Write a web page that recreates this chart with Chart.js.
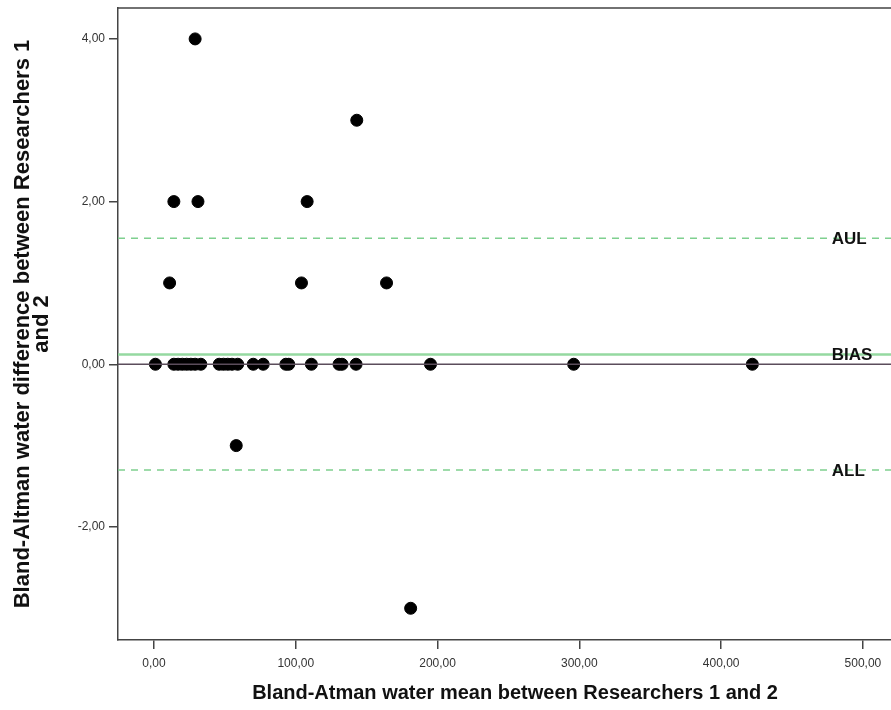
<!DOCTYPE html>
<html>
<head>
<meta charset="utf-8">
<title>Bland-Altman water</title>
<script src="https://cdn.jsdelivr.net/npm/chart.js@4"></script>
<style>
  html, body { margin: 0; padding: 0; background: #fff; overflow: hidden; }
  /* the original plot is cropped on the right, so the canvas is wider than the window */
  #wrap { position: relative; width: 919px; height: 710px; }
</style>
</head>
<body>
<div id="wrap"><canvas id="plot"></canvas></div>
<script>
// mean between researchers (x) and their difference (y)
const meanVals = [1, 14, 17, 20, 23, 26, 29, 33, 46, 49, 52, 55, 59, 70, 77, 93, 95, 111, 130.5, 132.6, 142.5, 195, 296, 422,
                  29, 143, 14, 31, 108, 11, 104, 164, 58, 181];
const diffVals = [0, 0, 0, 0, 0, 0, 0, 0, 0, 0, 0, 0, 0, 0, 0, 0, 0, 0, 0, 0, 0, 0, 0, 0,
                  4, 3, 2, 2, 2, 1, 1, 1, -1, -3];

// reference lines
const refNames  = ['AUL', 'BIAS', 'ALL'];
const refValues = [1.55, 0.12, -1.30];
const zeroValue = 0;

const xTicks = [0, 100, 200, 300, 400, 500];
const yTicks = [-2, 0, 2, 4];
const X_MIN = -25.4, X_MAX = 534.6;
const Y_MIN = -3.39, Y_MAX = 4.38;
const LABEL_X = 478;   // where the AUL/BIAS/ALL text starts, in x units

const FONT = '"Liberation Sans", Arial, sans-serif';
const AXIS = '#444';

const fmt = v => v.toFixed(2).replace('.', ',');

// ── reference line datasets ─────────────────────────────────────────────────
const hLine = (v, style) => Object.assign({
  type: 'line',
  data: [{ x: X_MIN, y: v }, { x: X_MAX, y: v }],
  pointRadius: 0,
  fill: false,
}, style);

const lineSets = [
  hLine(zeroValue,    { borderColor: '#5b4d5b', borderWidth: 1.5 }),
  hLine(refValues[0], { borderColor: '#7fd08f', borderWidth: 1.5, borderDash: [7, 6] }),
  hLine(refValues[1], { borderColor: '#95d9a0', borderWidth: 2.5 }),
  hLine(refValues[2], { borderColor: '#7fd08f', borderWidth: 1.5, borderDash: [7, 6] }),
];

// top frame line + line labels
const framePlugin = {
  id: 'frame',
  afterDatasetsDraw(chart) {
    const { ctx, chartArea: a, scales: { x, y } } = chart;
    ctx.save();
    ctx.strokeStyle = AXIS;
    ctx.lineWidth = 1.5;
    ctx.beginPath();
    ctx.moveTo(a.left, a.top);
    ctx.lineTo(a.right, a.top);
    ctx.lineTo(a.right, a.bottom);
    ctx.stroke();

    ctx.fillStyle = '#111';
    ctx.font = 'bold 17px ' + FONT;
    ctx.textAlign = 'left';
    ctx.textBaseline = 'middle';
    refNames.forEach((n, i) => {
      ctx.fillText(n, x.getPixelForValue(LABEL_X), y.getPixelForValue(refValues[i]) + 1);
    });
    ctx.restore();
  }
};

new Chart(document.getElementById('plot'), {
  type: 'scatter',
  data: {
    datasets: [
      ...lineSets,
      {
        type: 'scatter',
        data: meanVals.map((m, i) => ({ x: m, y: diffVals[i] })),
        backgroundColor: '#000',
        borderColor: '#000',
        pointRadius: 6,
        pointHoverRadius: 6,
      },
    ],
  },
  options: {
    responsive: true,
    maintainAspectRatio: false,
    animation: false,
    devicePixelRatio: 1,
    layout: { padding: { top: 8, right: 0, bottom: 0, left: 0 } },
    plugins: { legend: { display: false }, tooltip: { enabled: false } },
    scales: {
      x: {
        type: 'linear',
        min: X_MIN, max: X_MAX,
        // fixed height, and no extra room asked for the end tick labels
        afterFit: s => { s.height = 70; s.paddingLeft = 0; s.paddingRight = 0; },
        afterBuildTicks: s => { s.ticks = xTicks.map(v => ({ value: v })); },
        border: { color: AXIS, width: 1.5 },
        grid: { drawOnChartArea: false, drawTicks: true, tickLength: 9, tickColor: AXIS, lineWidth: 1.5 },
        ticks: { color: '#333', font: { family: FONT, size: 12 }, padding: 7, callback: fmt, maxRotation: 0 },
        title: {
          display: true,
          text: 'Bland-Atman water mean between Researchers 1 and 2',
          color: '#111',
          font: { family: FONT, size: 20, weight: 'bold' },
          padding: { top: 0, bottom: 5 },
        },
      },
      y: {
        type: 'linear',
        min: Y_MIN, max: Y_MAX,
        afterFit: s => { s.width = 118; s.paddingTop = 0; s.paddingBottom = 0; },
        afterBuildTicks: s => { s.ticks = yTicks.map(v => ({ value: v })); },
        border: { color: AXIS, width: 1.5 },
        grid: { drawOnChartArea: false, drawTicks: true, tickLength: 9, tickColor: AXIS, lineWidth: 1.5 },
        ticks: { color: '#333', font: { family: FONT, size: 12 }, padding: 4, callback: fmt },
        title: {
          display: true,
          text: ['Bland-Altman water difference between Researchers 1', 'and 2'],
          color: '#111',
          font: { family: FONT, size: 22, weight: 'bold', lineHeight: 0.85 },
          padding: { top: 14, bottom: 0 },
        },
      },
    },
  },
  plugins: [framePlugin],
});
</script>
</body>
</html>
